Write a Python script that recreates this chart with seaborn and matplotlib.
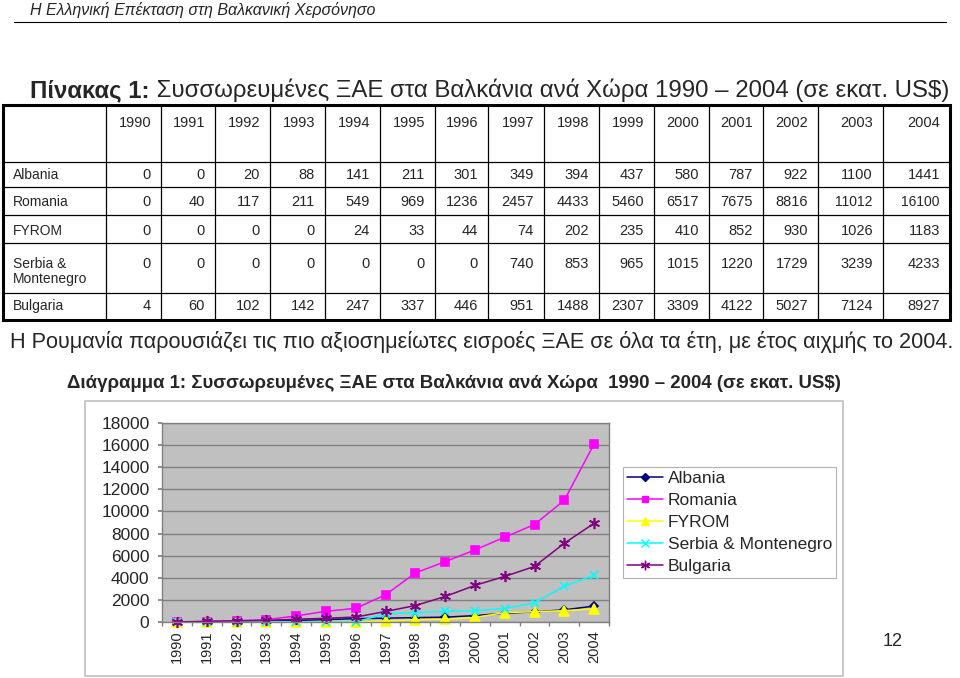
import numpy as np
import pandas as pd
import matplotlib
matplotlib.use('Agg')
import matplotlib.pyplot as plt
import seaborn as sns
from matplotlib.lines import Line2D
from matplotlib.patches import Rectangle

# ---------------- data ----------------
years = [1990, 1991, 1992, 1993, 1994, 1995, 1996, 1997, 1998, 1999,
         2000, 2001, 2002, 2003, 2004]
countries = ["Albania", "Romania", "FYROM", "Serbia & Montenegro", "Bulgaria"]
row_labels = [["Albania"], ["Romania"], ["FYROM"], ["Serbia &", "Montenegro"], ["Bulgaria"]]
albania = [0, 0, 20, 88, 141, 211, 301, 349, 394, 437, 580, 787, 922, 1100, 1441]
romania = [0, 40, 117, 211, 549, 969, 1236, 2457, 4433, 5460, 6517, 7675, 8816, 11012, 16100]
fyrom = [0, 0, 0, 0, 24, 33, 44, 74, 202, 235, 410, 852, 930, 1026, 1183]
serbia = [0, 0, 0, 0, 0, 0, 0, 740, 853, 965, 1015, 1220, 1729, 3239, 4233]
bulgaria = [4, 60, 102, 142, 247, 337, 446, 951, 1488, 2307, 3309, 4122, 5027, 7124, 8927]
y_ticks = list(range(0, 18001, 2000))

header_text = "Η Ελληνική Επέκταση στη Βαλκανική Χερσόνησο"
title_bold = "Πίνακας 1:"
title_rest = " Συσσωρευμένες ΞΑΕ στα Βαλκάνια ανά Χώρα 1990 – 2004 (σε εκατ. US$)"
paragraph = ("Η Ρουμανία παρουσιάζει τις πιο αξιοσημείωτες εισροές ΞΑΕ σε όλα τα έτη, "
             "με έτος αιχμής το 2004.")
chart_title = "Διάγραμμα 1: Συσσωρευμένες ΞΑΕ στα Βαλκάνια ανά Χώρα  1990 – 2004 (σε εκατ. US$)"
page_number = "12"

series = [albania, romania, fyrom, serbia, bulgaria]
colors = ["#000080", "#FF00FF", "#FFFF00", "#00FFFF", "#800080"]
markers = ["D", "s", "^", "x", (6, 2, 0)]
msizes = [4.5, 5.5, 6.5, 6, 8]

# ---------------- style ----------------
sns.set_theme(style="white")
plt.rcParams['font.family'] = ['Liberation Sans', 'DejaVu Sans']

fig = plt.figure(figsize=(9.6, 6.78), dpi=100)
bg = fig.add_axes([0, 0, 1, 1])
bg.set_xlim(0, 960)
bg.set_ylim(678, 0)
bg.axis('off')
renderer = fig.canvas.get_renderer()


def fit(x, y, s, width, **kw):
    t = bg.text(x, y, s, fontsize=10, va='baseline', **kw)
    w = t.get_window_extent(renderer).width
    t.set_fontsize(10 * width / w)
    return t


# page header
fit(30, 15, header_text, 348, style='italic')
bg.plot([14, 946], [22, 22], color='black', lw=0.8)

# table title (bold + regular)
tb = bg.text(30, 97, title_bold, fontsize=10, fontweight='bold', va='baseline')
tr = bg.text(30, 97, title_rest, fontsize=10, va='baseline')
wb = tb.get_window_extent(renderer).width
wr = tr.get_window_extent(renderer).width
fs = 10 * 920 / (wb + wr)
tb.set_fontsize(fs)
tr.set_fontsize(fs)
tr.set_x(30 + wb * fs / 10)

# table
xs = [3, 106, 161, 215, 270, 325, 380, 435, 488, 544, 599, 654, 709, 763, 818, 883, 950]
ys = [105, 162, 187, 215, 243, 293, 320]
for x in xs[1:-1]:
    bg.plot([x, x], [ys[0], ys[-1]], color='black', lw=0.9)
for y in ys[1:-1]:
    bg.plot([xs[0], xs[-1]], [y, y], color='black', lw=0.9)
bg.add_patch(Rectangle((xs[0], ys[0]), xs[-1] - xs[0], ys[-1] - ys[0],
                       fill=False, ec='black', lw=2.2))
for i, yr in enumerate(years):
    bg.text(xs[i + 2] - 10, 127, str(yr), fontsize=10.5, ha='right', va='baseline')
row_base = [179, 206, 235, 268, 310]
for r, (lab, vals) in enumerate(zip(row_labels, series)):
    for k, line in enumerate(lab):
        bg.text(13, row_base[r] + 15 * k, line, fontsize=10, ha='left', va='baseline')
    for j, v in enumerate(vals):
        s = str(v)
        bg.text(xs[j + 2] - 10, row_base[r], s, fontsize=10 if len(s) > 4 else 10.5,
                ha='right', va='baseline')

# paragraph & chart title & page number
fit(10, 348, paragraph, 945)
fit(67, 388, chart_title, 776, fontweight='bold')
bg.text(883, 646, page_number, fontsize=13, va='baseline')

# chart outer border
bg.add_patch(Rectangle((85, 401), 758, 275, fill=False, ec='#C0C0C0', lw=1.2))

# ---------------- chart ----------------
ax = fig.add_axes([162 / 960, (678 - 622) / 678, 447 / 960, 199 / 678])
ax.set_facecolor('#C0C0C0')
positions = np.arange(len(years))
for name, vals, c, m, ms in zip(countries, series, colors, markers, msizes):
    sns.lineplot(x=positions, y=vals, ax=ax, color=c, marker=m, markersize=ms,
                 markeredgecolor=c, markerfacecolor=c, markeredgewidth=1.2,
                 linewidth=1.1, clip_on=False, legend=False)

ax.set_xlim(-0.5, len(years) - 0.5)
ax.set_ylim(0, 18000)
ax.set_yticks(y_ticks)
ax.set_yticklabels([str(t) for t in y_ticks], fontsize=12.5)
ax.set_xticks(positions)
ax.set_xticklabels([str(y) for y in years], rotation=90, fontsize=10.5)
ax.set_xticks(np.arange(-0.5, len(years), 1), minor=True)
ax.tick_params(axis='x', which='major', bottom=True, length=0, pad=5.8)
ax.tick_params(axis='x', which='minor', bottom=True, length=3, color='#808080')
ax.tick_params(axis='y', which='major', left=True, length=3, color='#808080', pad=6)
ax.grid(axis='y', color='#808080', lw=1)
ax.set_axisbelow(True)
ax.set_xlabel('')
ax.set_ylabel('')
for sp in ax.spines.values():
    sp.set_visible(True)
    sp.set_color('#808080')
    sp.set_linewidth(1)

handles = [Line2D([], [], color=c, marker=m, markersize=ms * 0.85, markeredgecolor=c,
                  markerfacecolor=c, lw=1.1)
           for c, m, ms in zip(colors, markers, msizes)]
leg = fig.legend(handles, countries, loc='upper left',
                 bbox_to_anchor=(623 / 960, 1 - 467 / 678), fontsize=12.5,
                 frameon=True, fancybox=False, edgecolor='#A0A0A0',
                 borderpad=0.22, handlelength=2.1, handletextpad=0.25,
                 labelspacing=0.4, borderaxespad=0)
leg.get_frame().set_linewidth(0.8)
leg.get_frame().set_facecolor('white')

fig.savefig('out.png', dpi=100)
